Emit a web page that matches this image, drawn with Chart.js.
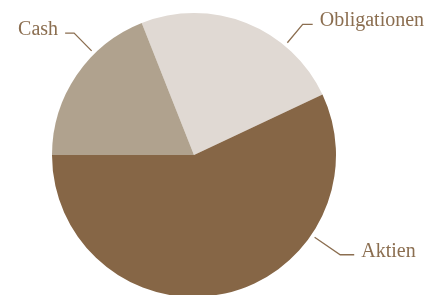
<!DOCTYPE html>
<html>
<head>
<meta charset="utf-8">
<script src="https://cdn.jsdelivr.net/npm/chart.js@4"></script>
<style>
    html, body { margin: 0; padding: 0; background: #fff; overflow: hidden; }
    canvas { display: block; }
</style>
</head>
<body>
<canvas id="allocChart" width="442" height="300"></canvas>
<script>
// Aufteilung des Portfolios (Anteile in %)
const categories = ['Obligationen', 'Aktien', 'Cash'];
const shares = [24, 57, 19];
const sliceColors = ['#e0d9d3', '#866646', '#b0a28e'];

// where along each slice the leader line leaves (0 = start, 1 = end)
const leaderAt = [0.71, 0.29, 0.665];
// how far out the elbow sits, and the length of the flat part
const leaderOut = [28, 35, 29];
const leaderFlat = [10, 14, 9];

const leaderLabels = {
    id: 'leaderLabels',
    afterDatasetsDraw(chart) {
        const ctx = chart.ctx;
        const arcs = chart.getDatasetMeta(0).data;
        ctx.save();
        ctx.strokeStyle = '#8b6e50';
        ctx.fillStyle = '#8b6e50';
        ctx.lineWidth = 1.3;
        ctx.font = '20px "Liberation Serif", serif';
        ctx.textBaseline = 'alphabetic';
        arcs.forEach((arc, i) => {
            const a = arc.startAngle + (arc.endAngle - arc.startAngle) * leaderAt[i];
            const r = arc.outerRadius;
            const x0 = arc.x + Math.cos(a) * (r + 4);
            const y0 = arc.y + Math.sin(a) * (r + 4);
            const x1 = arc.x + Math.cos(a) * (r + leaderOut[i]);
            const y1 = arc.y + Math.sin(a) * (r + leaderOut[i]);
            const dir = Math.cos(a) >= 0 ? 1 : -1;
            const x2 = x1 + dir * leaderFlat[i];
            ctx.beginPath();
            ctx.moveTo(x0, y0);
            ctx.lineTo(x1, y1);
            ctx.lineTo(x2, y1);
            ctx.stroke();
            ctx.textAlign = dir > 0 ? 'left' : 'right';
            ctx.fillText(categories[i], x2 + dir * 7, y1 + 2);
        });
        ctx.restore();
    }
};

const ctx = document.getElementById('allocChart').getContext('2d');
const allocChart = new Chart(ctx, {
    type: 'pie',
    data: {
        labels: categories,
        datasets: [
            {
                data: shares,
                backgroundColor: sliceColors,
                borderWidth: 0,
            },
        ],
    },
    options: {
        responsive: false,
        animation: false,
        rotation: -21.6,
        layout: {
            padding: { top: 13, bottom: 3, left: 52, right: 106 },
        },
        plugins: {
            legend: { display: false },
            tooltip: { enabled: false },
        },
    },
    plugins: [leaderLabels],
});
</script>
</body>
</html>
